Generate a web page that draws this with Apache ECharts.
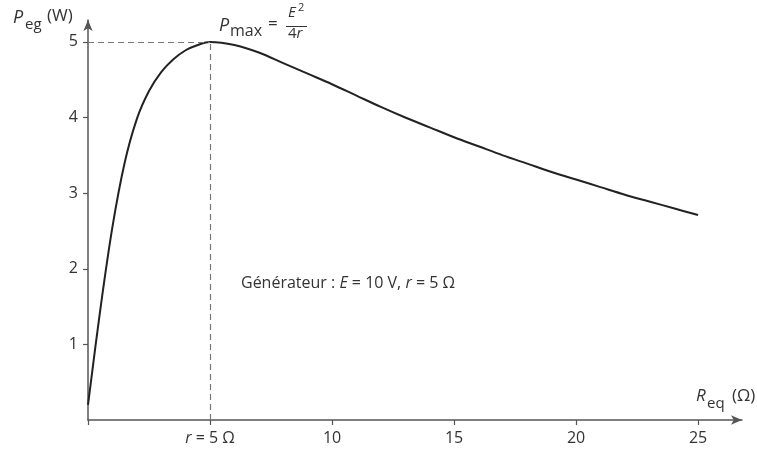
<!DOCTYPE html>
<html>
<head>
<meta charset="utf-8">
<script src="https://cdn.jsdelivr.net/npm/echarts@6/dist/echarts.min.js"></script>
<style>
  html, body { margin: 0; background: #fff; }
  #chart { width: 757px; height: 452px; }
</style>
</head>
<body>
<div id="chart"></div>
<script>
// Puissance reçue par le dipôle en fonction de Req
const resistance = [0, 0.5, 1, 1.5, 2, 2.5, 3, 3.5, 4, 4.5, 5, 6, 7, 8, 9, 10, 11, 12, 13, 14, 15, 16, 17, 18, 19, 20, 21, 22, 23, 24, 25];
const power = [0.2, 1.45, 2.55, 3.4, 3.98, 4.35, 4.6, 4.77, 4.89, 4.96, 5.0, 4.96, 4.86, 4.72, 4.58, 4.44, 4.29, 4.14, 4.0, 3.87, 3.74, 3.62, 3.5, 3.39, 3.28, 3.18, 3.08, 2.98, 2.89, 2.8, 2.71];

const xTicks = [0, 5, 10, 15, 20, 25];
const xLabels = [5, 10, 15, 20, 25];
const yTicks = [1, 2, 3, 4, 5];

const peakR = 5;
const peakP = 5;

const FONT = '"Open Sans", "DejaVu Sans", sans-serif';
const INK = '#333';

const chart = echarts.init(document.getElementById('chart'));

const seriesData = resistance.map((r, i) => [r, power[i]]);

chart.setOption({
  animation: false,
  grid: { left: 88, right: 15, top: 20, bottom: 32 },
  xAxis: {
    type: 'value',
    min: 0,
    max: 26.8,
    axisLine: {
      show: true,
      symbol: ['none', 'arrow'],
      symbolSize: [7, 11],
      lineStyle: { color: '#555', width: 1.5 }
    },
    axisTick: {
      show: true,
      length: 5,
      customValues: xTicks,
      lineStyle: { color: '#555', width: 1.2 }
    },
    axisLabel: {
      customValues: xLabels,
      margin: 10,
      color: INK,
      fontFamily: FONT,
      fontSize: 16,
      formatter: (v) => v === peakR ? '{i|r} = 5 Ω' : String(v),
      rich: { i: { fontStyle: 'italic', fontFamily: FONT, fontSize: 16, color: INK } }
    },
    splitLine: { show: false }
  },
  yAxis: {
    type: 'value',
    min: 0,
    max: 5.29,
    axisLine: {
      show: true,
      symbol: ['none', 'arrow'],
      symbolSize: [7, 11],
      lineStyle: { color: '#555', width: 1.5 }
    },
    axisTick: {
      show: true,
      length: 5,
      customValues: yTicks,
      lineStyle: { color: '#555', width: 1.2 }
    },
    axisLabel: {
      customValues: yTicks,
      margin: 10,
      color: INK,
      fontFamily: FONT,
      fontSize: 16
    },
    splitLine: { show: false }
  },
  series: [{
    type: 'line',
    data: seriesData,
    smooth: 0.35,
    showSymbol: false,
    lineStyle: { color: '#222', width: 2 },
    markLine: {
      silent: true,
      symbol: 'none',
      label: { show: false },
      lineStyle: { type: [6, 4], color: '#777', width: 1.2 },
      data: [
        [{ coord: [0, peakP] }, { coord: [peakR, peakP] }],
        [{ coord: [peakR, 0] }, { coord: [peakR, peakP] }]
      ]
    }
  }],
  graphic: [
    // nom de l'axe des ordonnées
    { type: 'text', x: 13, y: 9, style: { text: 'P', fontFamily: FONT, fontStyle: 'italic', fontSize: 18, fill: INK } },
    { type: 'text', x: 25, y: 17, style: { text: 'eg', fontFamily: FONT, fontSize: 15, fill: INK } },
    { type: 'text', x: 47, y: 8, style: { text: '(W)', fontFamily: FONT, fontSize: 17, fill: INK } },
    // nom de l'axe des abscisses
    { type: 'text', x: 696, y: 388, style: { text: 'R', fontFamily: FONT, fontStyle: 'italic', fontSize: 17, fill: INK } },
    { type: 'text', x: 707, y: 396, style: { text: 'eq', fontFamily: FONT, fontSize: 15, fill: INK } },
    { type: 'text', x: 732, y: 388, style: { text: '(Ω)', fontFamily: FONT, fontSize: 17, fill: INK } },
    // Pmax = E²/4r
    { type: 'text', x: 219, y: 17, style: { text: 'P', fontFamily: FONT, fontStyle: 'italic', fontSize: 18, fill: INK } },
    { type: 'text', x: 230, y: 23, style: { text: 'max', fontFamily: FONT, fontSize: 16, fill: INK } },
    { type: 'text', x: 268, y: 16, style: { text: '=', fontFamily: FONT, fontSize: 17, fill: INK } },
    { type: 'text', x: 288, y: 5, style: { text: 'E', fontFamily: FONT, fontStyle: 'italic', fontSize: 15, fill: INK } },
    { type: 'text', x: 298, y: 2, style: { text: '2', fontFamily: FONT, fontSize: 11, fill: INK } },
    { type: 'line', shape: { x1: 286, y1: 26.5, x2: 307, y2: 26.5 }, style: { stroke: INK, lineWidth: 1 } },
    {
      type: 'text', x: 288, y: 26,
      style: {
        text: '4{i|r}', fontFamily: FONT, fontSize: 15, fill: INK,
        rich: { i: { fontStyle: 'italic', fontFamily: FONT, fontSize: 15, fill: INK } }
      }
    },
    // caractéristiques du générateur
    {
      type: 'text', x: 241, y: 283,
      style: {
        text: 'Générateur : {i|E} = 10 V, {i|r} = 5 Ω',
        fontFamily: FONT, fontSize: 16, fill: INK, verticalAlign: 'middle',
        rich: { i: { fontStyle: 'italic', fontFamily: FONT, fontSize: 16, fill: INK } }
      }
    }
  ]
});
</script>
</body>
</html>
